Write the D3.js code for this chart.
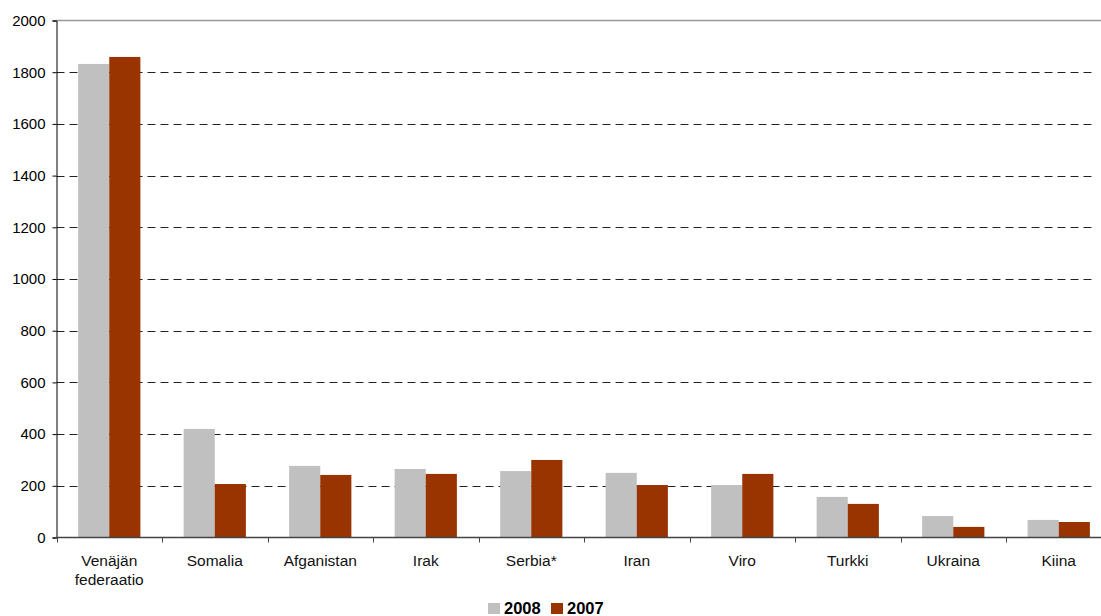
<!DOCTYPE html>
<html><head><meta charset="utf-8">
<script src="https://cdn.jsdelivr.net/npm/d3@7"></script>
<style>body{margin:0;background:#fff;} text{font-family:"Liberation Sans",Arial,sans-serif;}</style>
</head><body>
<svg id="c" width="1101" height="616"></svg>
<script>
const categories = [["Venäjän","federaatio"],["Somalia"],["Afganistan"],["Irak"],["Serbia*"],["Iran"],["Viro"],["Turkki"],["Ukraina"],["Kiina"]];
const seriesNames = ["2008","2007"];
const values2008 = [1832,420,277,265,257,250,203,157,83,68];
const values2007 = [1859,207,242,246,300,203,246,130,41,60];
const yTicks = [0,200,400,600,800,1000,1200,1400,1600,1800,2000];
const colors = ["#C0C0C0","#993300"];

const svg = d3.select("#c");
const x0 = 56.5, x1 = 1111.5, yTop = 20.5, yBot = 537.5;
const x = d3.scaleBand().domain(d3.range(categories.length)).range([x0,x1]).paddingInner(0).paddingOuter(0);
const y = d3.scaleLinear().domain([0,2000]).range([yBot,yTop]);
const bw = x.bandwidth();
const sub = d3.scaleBand().domain([0,1]).range([bw*0.205, bw*0.795]).paddingInner(0).paddingOuter(0);

// gridlines
svg.append("g").selectAll("line").data(yTicks.filter(t=>t>0 && t<2000)).join("line")
  .attr("x1",x0).attr("x2",1094).attr("y1",d=>Math.round(y(d))+0.5).attr("y2",d=>Math.round(y(d))+0.5)
  .attr("stroke","#222").attr("stroke-width",1).attr("stroke-dasharray","8,5");
// top border
svg.append("line").attr("x1",x0).attr("x2",1101).attr("y1",yTop).attr("y2",yTop).attr("stroke","#999").attr("stroke-width",1.5);

// bars
const series = [values2008, values2007];
series.forEach((vals,si)=>{
  svg.append("g").selectAll("rect").data(vals).join("rect")
    .attr("x",(d,i)=>x(i)+sub(si)).attr("width",sub.bandwidth())
    .attr("y",d=>y(d)).attr("height",d=>y(0)-y(d)).attr("fill",colors[si]);
});

// y axis
const ya = svg.append("g").attr("transform",`translate(${x0},0)`)
  .call(d3.axisLeft(y).tickValues(yTicks).tickSize(4).tickPadding(7).tickFormat(d3.format("d")));
ya.select(".domain").attr("stroke","#000");
ya.selectAll(".tick line").attr("stroke","#000");
ya.selectAll("text").attr("font-size",15).attr("fill","#000").attr("font-family","Liberation Sans, Arial, sans-serif");

// x axis
const xa = svg.append("g").attr("transform",`translate(0,${yBot})`);
xa.append("line").attr("x1",x0).attr("x2",1101).attr("y1",0).attr("y2",0).attr("stroke","#444").attr("stroke-width",1.5);
xa.selectAll("line.t").data(d3.range(categories.length+1)).join("line").attr("class","t")
  .attr("x1",i=>Math.round(x0+i*x.step())+0.5).attr("x2",i=>Math.round(x0+i*x.step())+0.5)
  .attr("y1",0).attr("y2",5).attr("stroke","#444");
const lab = xa.selectAll("text").data(categories).join("text")
  .attr("text-anchor","middle").attr("font-size",15.5).attr("fill","#111");
lab.each(function(d,i){
  const t = d3.select(this);
  d.forEach((s,k)=>t.append("tspan").attr("x",x(i)+x.bandwidth()/2).attr("y",28+k*19).text(s));
});

// legend
const lg = svg.append("g");
const lx = [488,551];
seriesNames.forEach((n,i)=>{
  lg.append("rect").attr("x",lx[i]).attr("y",603).attr("width",12).attr("height",11).attr("fill",colors[i]);
  lg.append("text").attr("x",lx[i]+16).attr("y",614).attr("font-size",16.5).attr("font-weight","bold").attr("fill","#000").text(n);
});
</script>
</body></html>
